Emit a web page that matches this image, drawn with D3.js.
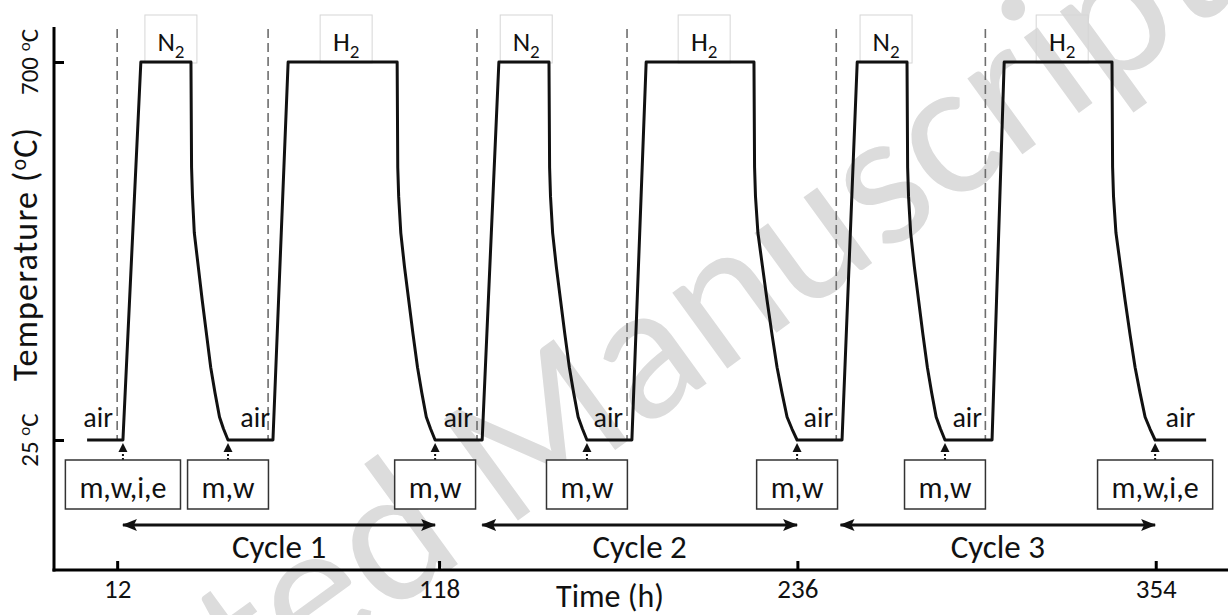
<!DOCTYPE html>
<html><head><meta charset="utf-8">
<script src="https://cdn.jsdelivr.net/npm/d3@7"></script>
<style>
html,body{margin:0;padding:0;background:#fff;}
svg{display:block;}
</style></head><body>
<svg id="chart" width="1228" height="615"></svg>
<script>
// ---------------- data ----------------
const profileTime = [2.1, 13.9, 19.8, 36.3,
  36.5, 36.8, 37.4, 38.7, 40.0, 41.4, 42.8, 44.2, 45.7, 47.0, 48.5,
  63.3, 68.3, 104.2,
  104.4, 104.7, 105.4, 106.6, 108.0, 109.4, 110.9, 112.3, 113.8, 115.2, 116.7,
  132.2, 137.7, 154.2,
  154.4, 154.7, 155.4, 156.6, 158.0, 159.4, 160.9, 162.3, 163.8, 165.2, 166.7,
  181.5, 186.2, 221.7,
  221.9, 222.2, 223.0, 224.5, 226.0, 227.6, 229.3, 230.9, 232.6, 234.2, 235.9,
  250.7, 255.7, 272.1,
  272.3, 272.6, 273.3, 274.5, 275.9, 277.3, 278.8, 280.2, 281.7, 283.1, 284.6,
  300.1, 304.1, 339.6,
  339.8, 340.1, 340.9, 342.4, 343.9, 345.5, 347.2, 348.8, 350.5, 352.1, 353.8,
  370.6];
const profileTemp = [25, 25, 700, 700,
  512, 460, 395, 335, 275, 215, 155, 110, 66, 45, 25,
  25, 700, 700,
  512, 460, 395, 335, 275, 215, 155, 110, 66, 45, 25,
  25, 700, 700,
  512, 460, 395, 335, 275, 215, 155, 110, 66, 45, 25,
  25, 700, 700,
  512, 460, 395, 335, 275, 215, 155, 110, 66, 45, 25,
  25, 700, 700,
  512, 460, 395, 335, 275, 215, 155, 110, 66, 45, 25,
  25, 700, 700,
  512, 460, 395, 335, 275, 215, 155, 110, 66, 45, 25,
  25];
const gasLabels = ["N", "H", "N", "H", "N", "H"];
const gasTime = [29.7, 87.4, 146.7, 205.3, 265.2, 323.2];
const switchTime = [12.0, 61.7, 130.5, 179.9, 248.8, 297.9];
const airLabelTime = [10.6, 62.3, 129.2, 178.6, 247.8, 296.8, 367.0];
const measureTime = [13.9, 48.5, 116.7, 166.7, 235.9, 284.6, 353.8];
const measureLabels = ["m,w,i,e", "m,w", "m,w", "m,w", "m,w", "m,w", "m,w,i,e"];
const cycleLabels = ["Cycle 1", "Cycle 2", "Cycle 3"];
const cycleStart = [13.9, 132.2, 250.2];
const cycleEnd = [116.7, 235.9, 353.8];
const xTicks = [12, 118, 236, 354];
const yTicks = [25, 700];
const yTickText = ["25", "700"];

// ---------------- layout ----------------
const FONT = "Carlito, Calibri, Lato, sans-serif";
const svg = d3.select("#chart").attr("font-family", FONT);
const x = d3.scaleLinear().domain([-8.8, 377.8]).range([54, 1228]);
const y = d3.scaleLinear().domain([25, 700]).range([440, 62]);
const axisY0 = 570, axisTop = 27;

// watermark (behind everything)
const wm = svg.append("g").attr("transform", "translate(505,530) rotate(-36)")
  .attr("fill", "#dcdcdc").attr("font-size", 196).attr("font-family", FONT);
wm.append("text").attr("text-anchor", "end").text("Accepted\u00a0");
wm.append("text").attr("text-anchor", "start").text("Manuscript");

// dashed gas-switch lines
svg.append("g").selectAll("line").data(switchTime).join("line")
  .attr("x1", d => x(d)).attr("x2", d => x(d))
  .attr("y1", 29).attr("y2", y(25))
  .attr("stroke", "#6e6e6e").attr("stroke-width", 1.6).attr("stroke-dasharray", "9,5");

// gas label boxes
const gas = svg.append("g").selectAll("g").data(gasLabels).join("g")
  .attr("transform", (d, i) => `translate(${x(gasTime[i])},0)`);
gas.append("rect").attr("x", -26).attr("y", 15).attr("width", 52).attr("height", 48)
  .attr("fill", "none").attr("stroke", "#d6d6d6").attr("stroke-width", 1);
const gt = gas.append("text").attr("text-anchor", "middle").attr("y", 51)
  .attr("font-size", 27).attr("fill", "#111");
gt.append("tspan").text(d => d);
gt.append("tspan").attr("font-size", 19).attr("dy", 7).text("2");

// temperature profile
const line = d3.line().x(d => x(d[0])).y(d => y(d[1]));
svg.append("path").datum(profileTime.map((t, i) => [t, profileTemp[i]]))
  .attr("d", line).attr("fill", "none").attr("stroke", "#111")
  .attr("stroke-width", 3).attr("stroke-linejoin", "round");

// air labels
svg.append("g").selectAll("text").data(airLabelTime).join("text")
  .attr("x", d => x(d)).attr("y", 427).attr("text-anchor", "end")
  .attr("font-size", 28).attr("fill", "#111").text("air");

// measurement boxes and small arrows
const meas = svg.append("g").selectAll("g").data(measureLabels).join("g")
  .attr("transform", (d, i) => `translate(${x(measureTime[i])},0)`);
meas.append("path").attr("d", "M-4.5,452 L4.5,452 L0,443 Z").attr("fill", "#111");
meas.append("line").attr("x1", 0).attr("x2", 0).attr("y1", 454).attr("y2", 460)
  .attr("stroke", "#111").attr("stroke-width", 2).attr("stroke-dasharray", "2,2");
meas.append("text").attr("text-anchor", "middle").attr("y", 498)
  .attr("font-size", 30).attr("fill", "#111").text(d => d);
meas.each(function () {
  const g = d3.select(this);
  const w = g.select("text").node().getComputedTextLength() + 28;
  g.insert("rect", "text").attr("x", -w / 2).attr("y", 460).attr("width", w).attr("height", 49)
    .attr("fill", "#fff").attr("stroke", "#333").attr("stroke-width", 1.5);
});

// cycle arrows
const defs = svg.append("defs");
defs.append("marker").attr("id", "ah").attr("viewBox", "0 0 15 12")
  .attr("refX", 14).attr("refY", 6).attr("markerWidth", 15).attr("markerHeight", 12)
  .attr("markerUnits", "userSpaceOnUse").attr("orient", "auto-start-reverse")
  .append("path").attr("d", "M0,0 L15,6 L0,12 L3,6 Z").attr("fill", "#111");
const cyc = svg.append("g").selectAll("g").data(cycleLabels).join("g");
cyc.append("line").attr("x1", (d, i) => x(cycleStart[i])).attr("x2", (d, i) => x(cycleEnd[i]))
  .attr("y1", 525).attr("y2", 525).attr("stroke", "#111").attr("stroke-width", 3)
  .attr("marker-start", "url(#ah)").attr("marker-end", "url(#ah)");
cyc.append("text").attr("x", (d, i) => (x(cycleStart[i]) + x(cycleEnd[i])) / 2)
  .attr("y", 558).attr("text-anchor", "middle").attr("font-size", 33).attr("fill", "#111").text(d => d);

// axes
const gx = svg.append("g").attr("transform", `translate(0,${axisY0})`)
  .call(d3.axisBottom(x).tickValues(xTicks).tickSize(-9).tickFormat(d3.format("d")));
gx.attr("font-family", FONT);
gx.select(".domain").remove();
gx.selectAll(".tick line").attr("stroke", "#000").attr("stroke-width", 3);
gx.selectAll(".tick text").attr("y", 28).attr("dy", 0).attr("font-size", 27).attr("fill", "#111");

const gy = svg.append("g").attr("transform", "translate(54,0)")
  .call(d3.axisLeft(y).tickValues(yTicks).tickSize(-10));
gy.select(".domain").remove();
gy.selectAll(".tick line").attr("stroke", "#000").attr("stroke-width", 3);
gy.selectAll(".tick text").remove();

svg.append("line").attr("x1", 52.5).attr("x2", 1228).attr("y1", axisY0).attr("y2", axisY0)
  .attr("stroke", "#000").attr("stroke-width", 3);
svg.append("line").attr("x1", 54).attr("x2", 54).attr("y1", axisTop).attr("y2", axisY0 + 1.5)
  .attr("stroke", "#000").attr("stroke-width", 3);

// y tick labels (rotated)
const ytl = svg.append("g").selectAll("text").data(yTicks).join("text")
  .attr("transform", d => `translate(38,${y(d)}) rotate(-90)`)
  .attr("text-anchor", "middle").attr("font-size", 25).attr("fill", "#111");
ytl.append("tspan").text((d, i) => yTickText[i] + "\u00a0");
ytl.append("tspan").attr("font-size", 17).attr("dy", -8).text("o");
ytl.append("tspan").attr("dy", 8).text("C");

// axis titles
const yt = svg.append("text").attr("transform", "translate(37,254) rotate(-90)")
  .attr("text-anchor", "middle").attr("font-size", 34).attr("letter-spacing", 1.2)
  .attr("fill", "#111");
yt.append("tspan").text("Temperature (");
yt.append("tspan").attr("font-size", 22).attr("dy", -11).text("o");
yt.append("tspan").attr("dy", 11).text("C)");

svg.append("text").attr("x", 610).attr("y", 607).attr("text-anchor", "middle")
  .attr("font-size", 32).attr("fill", "#111").text("Time (h)");
</script>
</body></html>
